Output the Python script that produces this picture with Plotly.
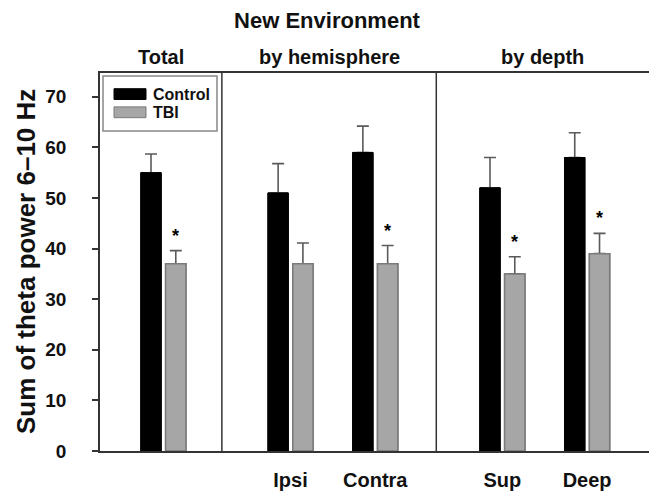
import plotly.graph_objects as go

# ---- data ----
groups = ["Total", "Ipsi", "Contra", "Sup", "Deep"]
group_pos = [0, 1.5, 2.5, 4, 5]
tick_labels = ["", "Ipsi", "Contra", "Sup", "Deep"]
control_vals = [55, 51, 59, 52, 58]
control_err = [3.7, 5.8, 5.2, 6.0, 4.9]
tbi_vals = [37, 37, 37, 35, 39]
tbi_err = [2.6, 4.1, 3.6, 3.4, 4.0]
tbi_sig = [True, False, True, True, True]
panels = ["Total", "by hemisphere", "by depth"]
panel_bounds = [-0.748, 0.69, 3.22, 5.73]
y_ticks = [0, 10, 20, 30, 40, 50, 60, 70]

FONT = "Liberation Sans, Arial, Helvetica, sans-serif"
AX = "#333333"
ERR = "#5a5a5a"
CTRL_MARKER = dict(color="black", line=dict(color="black", width=1))
TBI_MARKER = dict(color="#a6a6a6", line=dict(color="#7a7a7a", width=1.5))

fig = go.Figure()
# bars with one-sided (upper) error bars
fig.add_trace(go.Bar(
    x=group_pos, y=control_vals, name="Control", offsetgroup="ctrl",
    marker=CTRL_MARKER,
    error_y=dict(type="data", symmetric=False, array=control_err,
                 arrayminus=[0] * len(control_err),
                 color=ERR, thickness=1.6, width=6),
))
fig.add_trace(go.Bar(
    x=group_pos, y=tbi_vals, name="TBI", offsetgroup="tbi",
    marker=TBI_MARKER,
    error_y=dict(type="data", symmetric=False, array=tbi_err,
                 arrayminus=[0] * len(tbi_err),
                 color=ERR, thickness=1.6, width=6),
))
# same bars redrawn on top to hide the lower caps of the error bars
fig.add_trace(go.Bar(x=group_pos, y=control_vals, name="Control", offsetgroup="ctrl",
                     marker=CTRL_MARKER, hoverinfo="skip"))
fig.add_trace(go.Bar(x=group_pos, y=tbi_vals, name="TBI", offsetgroup="tbi",
                     marker=TBI_MARKER, hoverinfo="skip"))

annotations = []
shapes = []

# significance stars
for i, sig in enumerate(tbi_sig):
    if sig:
        annotations.append(dict(
            x=group_pos[i], y=tbi_vals[i] + tbi_err[i], xref="x", yref="y",
            text="*", showarrow=False, xanchor="center", yanchor="bottom",
            xshift=12.4, yshift=3,
            font=dict(family=FONT, size=18, color="black", weight="bold"),
        ))

# panel headers and dividers
for j, name in enumerate(panels):
    mid = (panel_bounds[j] + panel_bounds[j + 1]) / 2
    annotations.append(dict(
        x=mid, y=1, xref="x", yref="paper", text=name, showarrow=False,
        xanchor="center", yanchor="middle", yshift=16,
        font=dict(family=FONT, size=20, color="#111111", weight="bold"),
    ))
for b in panel_bounds[1:3]:
    shapes.append(dict(type="line", x0=b, x1=b, y0=0, y1=1, xref="x", yref="paper",
                       line=dict(color=AX, width=1.5)))

# y axis title
annotations.append(dict(
    x=0, y=0.5, xref="paper", yref="paper", text="Sum of theta power 6\u201310 Hz",
    showarrow=False, textangle=-90, xanchor="center", yanchor="middle", xshift=-74,
    font=dict(family=FONT, size=26, color="#111111", weight="bold"),
))

# legend box
shapes.append(dict(type="rect", xref="paper", yref="paper",
                   x0=3 / 549, x1=117 / 549, y0=1 - 59 / 385, y1=1 - 3 / 385,
                   line=dict(color="#888888", width=1.5), fillcolor="white"))
legend_items = [("Control", "black", "black"), ("TBI", "#a6a6a6", "#7a7a7a")]
for k, (lab, fc, lc) in enumerate(legend_items):
    yc = 1 - (21.5 + k * 18.5) / 385
    shapes.append(dict(type="rect", xref="paper", yref="paper",
                       x0=14 / 549, x1=46 / 549, y0=yc - 5.5 / 385, y1=yc + 5.5 / 385,
                       line=dict(color=lc, width=1), fillcolor=fc))
    annotations.append(dict(x=51 / 549, y=yc, xref="paper", yref="paper", text=lab,
                            showarrow=False, xanchor="left", yanchor="middle",
                            font=dict(family=FONT, size=16, color="#111111", weight="bold")))

fig.update_layout(
    width=649, height=491,
    margin=dict(l=100, r=0, t=73, b=33),
    paper_bgcolor="white", plot_bgcolor="white",
    barmode="group", bargap=0.415, bargroupgap=0.18,
    showlegend=False,
    title=dict(text="<b>New Environment</b>", x=327 / 649, xanchor="center",
               y=1 - 20 / 491, yanchor="middle",
               font=dict(family=FONT, size=22, color="#111111")),
    font=dict(family=FONT, color="#111111"),
    annotations=annotations,
    shapes=shapes,
)
fig.update_xaxes(
    range=[panel_bounds[0], panel_bounds[-1]],
    tickmode="array", tickvals=group_pos, ticktext=tick_labels,
    ticks="", showgrid=False, zeroline=False,
    showline=True, linecolor=AX, linewidth=1.5, mirror=True,
    tickfont=dict(family=FONT, size=20, color="#111111", weight="bold"),
    ticklabelstandoff=10,
)
fig.update_yaxes(
    range=[0, 74.7], tickmode="array", tickvals=y_ticks,
    ticks="outside", ticklen=6, tickwidth=1.5, tickcolor=AX,
    showgrid=False, zeroline=False,
    showline=True, linecolor=AX, linewidth=1.5, mirror=False,
    tickfont=dict(family=FONT, size=19, color="#111111", weight="bold"),
    ticklabelstandoff=22,
)

fig.write_html("out.html")
